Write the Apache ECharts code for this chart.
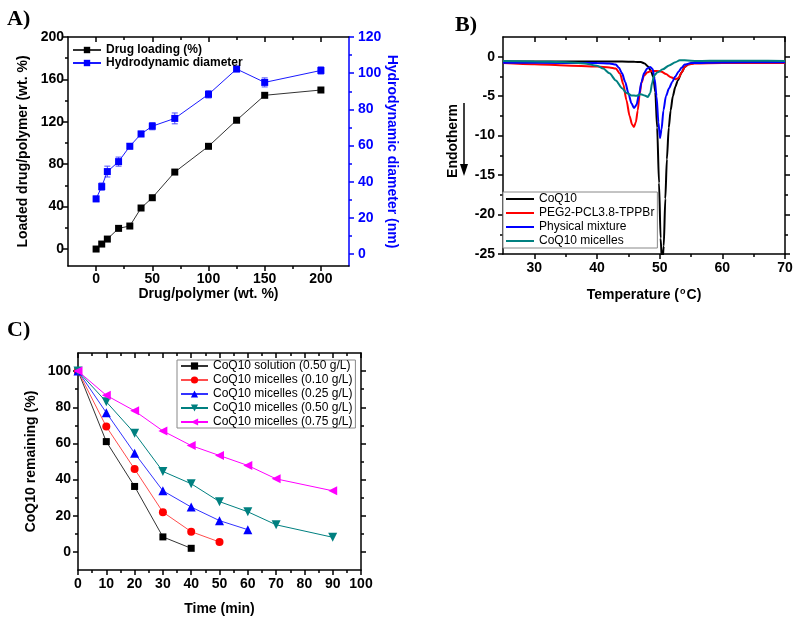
<!DOCTYPE html>
<html>
<head>
<meta charset="utf-8">
<title>CoQ10 micelles</title>
<script src="https://cdn.jsdelivr.net/npm/echarts@6.0.0/dist/echarts.min.js"></script>
<style>
  html, body { margin: 0; padding: 0; background: #fff; }
  #chart { width: 800px; height: 624px; }
</style>
</head>
<body>
<div id="chart"></div>
<script>
// A) drug loading + hydrodynamic diameter vs feed ratio
var feedRatio = [0, 5, 10, 20, 30, 40, 50, 70, 100, 125, 150, 200];
var drugLoading = [0, 4.7, 9.4, 19.5, 21.7, 38.7, 48.4, 72.6, 96.9, 121.5, 145, 150];
var hydroDiameter = [30.5, 37.3, 45.6, 51.1, 59.6, 66.4, 70.7, 75, 88.3, 102.3, 94.9, 101.5];
var hydroError = [1.5, 2, 3, 2.5, 1.5, 1.5, 2, 3, 2, 1.5, 2.5, 2];

// B) DSC curves, [temperature, heat flow]
var dscCoq10 = [[25,-0.6],[30,-0.6],[35,-0.6],[40,-0.62],[44,-0.62],[46,-0.63],[47,-0.68],[47.6,-0.85],[48.1,-1.2],[48.6,-1.8],[49,-2.6],[49.3,-4.5],[49.6,-9],[49.9,-16],[50.15,-23],[50.4,-26.5],[50.65,-24],[50.9,-18],[51.15,-13],[51.45,-9],[51.75,-6.8],[52.1,-5],[52.5,-3.8],[52.9,-3],[53.5,-2],[54,-1.3],[54.6,-0.95],[55.5,-0.8],[57,-0.72],[63,-0.7],[70,-0.7]];
var dscPolymer = [[25,-0.8],[30,-0.95],[35,-1.1],[40,-1.25],[42,-1.35],[43,-1.5],[43.7,-2.2],[44.2,-3.5],[44.7,-5.5],[45.2,-7.5],[45.6,-8.6],[45.9,-8.9],[46.2,-8.3],[46.5,-6.8],[46.8,-4.8],[47.1,-3.3],[47.5,-2.4],[48,-2],[48.7,-1.8],[49.5,-1.8],[50.3,-1.9],[51,-2.2],[51.8,-2.6],[52.5,-2.85],[53,-2.7],[53.5,-2],[54,-1.3],[54.5,-1],[55.5,-0.85],[60,-0.8],[70,-0.8]];
var dscMixture = [[25,-0.75],[35,-0.78],[40,-0.8],[42,-0.85],[43,-1],[43.5,-1.4],[44,-2.1],[44.5,-3.2],[45,-4.6],[45.5,-5.9],[45.9,-6.5],[46.3,-6.1],[46.7,-4.8],[47.1,-3.2],[47.5,-2.1],[48,-1.5],[48.5,-1.3],[48.9,-1.6],[49.2,-2.8],[49.5,-5],[49.8,-8.3],[50.05,-10.3],[50.3,-9.2],[50.6,-6.8],[51,-5],[51.5,-4],[52,-3.2],[52.5,-2.5],[53,-1.9],[53.5,-1.4],[54,-1],[55,-0.8],[60,-0.72],[70,-0.7]];
var dscMicelles = [[25,-0.55],[30,-0.6],[35,-0.7],[38,-0.85],[40,-1.15],[41,-1.5],[42,-2.1],[43,-3],[44,-4],[44.7,-4.6],[45.5,-4.9],[46.3,-4.95],[47,-4.75],[47.6,-4.9],[48.1,-5.1],[48.5,-4.6],[48.8,-3.3],[49.1,-2.4],[49.6,-2],[50.5,-1.6],[51.5,-1.1],[52.5,-0.7],[53.2,-0.45],[54,-0.45],[56,-0.55],[60,-0.5],[65,-0.5],[70,-0.55]];

// C) CoQ10 remaining vs time
var timeMin = [0, 10, 20, 30, 40, 50, 60, 70, 90];
var solution050 = [100, 61, 36.2, 8.3, 2];
var micelles010 = [100, 69.3, 45.8, 22, 11.2, 5.5];
var micelles025 = [100, 77, 54.6, 33.8, 24.8, 17.3, 12.3];
var micelles050 = [100, 83, 65.6, 44.5, 37.7, 27.8, 22.2, 15, 8.1];
var micelles075 = [100, 86.6, 78, 66.9, 58.8, 53.3, 47.8, 40.4, 33.8];

// tick values (major / minor)
var ticksAx = [0, 50, 100, 150, 200], minorAx = [25, 75, 125, 175];
var ticksAy = [0, 40, 80, 120, 160, 200], minorAy = [20, 60, 100, 140, 180];
var ticksAy2 = [0, 20, 40, 60, 80, 100, 120], minorAy2 = [10, 30, 50, 70, 90, 110];
var ticksBx = [30, 40, 50, 60, 70], minorBx = [35, 45, 55, 65];
var ticksBy = [-25, -20, -15, -10, -5, 0], minorBy = [-22.5, -17.5, -12.5, -7.5, -2.5];
var ticksCx = [0, 10, 20, 30, 40, 50, 60, 70, 80, 90, 100], minorCx = [5, 15, 25, 35, 45, 55, 65, 75, 85, 95];
var ticksCy = [0, 20, 40, 60, 80, 100], minorCy = [10, 30, 50, 70, 90];

var FONT = '"Liberation Sans", Arial, sans-serif';

function pair(xs, ys) {
  return ys.map(function (y, i) { return [xs[i], y]; });
}

// one axis with major ticks (+labels) and a twin carrying the minor ticks
function axisPair(grid, pos, min, max, major, minor, opt) {
  opt = opt || {};
  var color = opt.color || '#000';
  var inside = pos === 'top';
  var main = {
    type: 'value', gridIndex: grid, position: pos, min: min, max: max,
    splitLine: { show: false },
    axisLine: { show: true, onZero: false, lineStyle: { color: color, width: 1.5 } },
    axisTick: { show: true, inside: inside, length: 5, customValues: major, lineStyle: { color: color, width: 1.5 } },
    axisLabel: { show: !!opt.labels, customValues: major, margin: opt.margin || 6, color: color,
                 fontFamily: FONT, fontWeight: 'bold', fontSize: 14 }
  };
  if (opt.name) {
    main.name = opt.name;
    main.nameLocation = 'middle';
    main.nameGap = opt.nameGap;
    if (opt.nameRotate != null) main.nameRotate = opt.nameRotate;
    main.nameTextStyle = { color: color, fontFamily: FONT, fontWeight: 'bold', fontSize: 14 };
    if (opt.rich) main.nameTextStyle.rich = opt.rich;
  }
  var sub = {
    type: 'value', gridIndex: grid, position: pos, min: min, max: max,
    splitLine: { show: false },
    axisLine: { show: false, onZero: false },
    axisTick: { show: true, inside: inside, length: 3, customValues: minor, lineStyle: { color: color, width: 1.5 } },
    axisLabel: { show: false }
  };
  return [main, sub];
}

var xAxes = [].concat(
  axisPair(0, 'bottom', -25, 225, ticksAx, minorAx, { labels: true, margin: 6, name: 'Drug/polymer (wt. %)', nameGap: 20 }),
  axisPair(0, 'top', -25, 225, ticksAx, minorAx),
  axisPair(1, 'bottom', 25, 70, ticksBx, minorBx, { labels: true, margin: 7, name: 'Temperature ({sup|o}C)', nameGap: 33,
    rich: { sup: { fontSize: 9, fontWeight: 'bold', fontFamily: FONT, verticalAlign: 'top', padding: [0, 1, 8, 1] } } }),
  axisPair(1, 'top', 25, 70, ticksBx, minorBx),
  axisPair(2, 'bottom', 0, 100, ticksCx, minorCx, { labels: true, margin: 7, name: 'Time (min)', nameGap: 32 }),
  axisPair(2, 'top', 0, 100, ticksCx, minorCx)
);
var yAxes = [].concat(
  axisPair(0, 'left', -16, 200, ticksAy, minorAy, { labels: true, margin: 4, name: 'Loaded drug/polymer (wt. %)', nameGap: 38 }),
  axisPair(0, 'right', -6.6, 120, ticksAy2, minorAy2, { labels: true, margin: 9, color: '#0000ff', name: 'Hydrodynamic diameter (nm)', nameGap: 36, nameRotate: -90 }),
  axisPair(1, 'left', -25, 2.5, ticksBy, minorBy, { labels: true, margin: 8 }),
  axisPair(1, 'right', -25, 2.5, ticksBy, minorBy),
  axisPair(2, 'left', -10, 110, ticksCy, minorCy, { labels: true, margin: 7, name: 'CoQ10 remaining (%)', nameGap: 40 }),
  axisPair(2, 'right', -10, 110, ticksCy, minorCy)
);

function errorBar(params, api) {
  var x = api.value(0);
  var lo = api.coord([x, api.value(1)]);
  var hi = api.coord([x, api.value(2)]);
  var style = { stroke: '#4d4dff', lineWidth: 1 };
  return {
    type: 'group',
    children: [
      { type: 'line', shape: { x1: lo[0], y1: lo[1], x2: hi[0], y2: hi[1] }, style: style },
      { type: 'line', shape: { x1: hi[0] - 3, y1: hi[1], x2: hi[0] + 3, y2: hi[1] }, style: style },
      { type: 'line', shape: { x1: lo[0] - 3, y1: lo[1], x2: lo[0] + 3, y2: lo[1] }, style: style }
    ]
  };
}

function dscLine(name, data, color) {
  return {
    name: name, type: 'line', xAxisIndex: 4, yAxisIndex: 4, data: data,
    symbol: 'none', smooth: 0.25, smoothMonotone: 'x',
    lineStyle: { color: color, width: 2 }, itemStyle: { color: color }
  };
}

function decayLine(name, values, symbol, size, rotate, color, lineColor) {
  return {
    name: name, type: 'line', xAxisIndex: 8, yAxisIndex: 8, data: pair(timeMin, values),
    symbol: symbol, symbolSize: size, symbolRotate: rotate,
    lineStyle: { color: lineColor, width: 1 }, itemStyle: { color: color }
  };
}

var chart = echarts.init(document.getElementById('chart'));
chart.setOption({
  animation: false,
  backgroundColor: '#fff',
  grid: [
    { left: 68, top: 37, width: 281, height: 229, outerBoundsMode: 'none' },
    { left: 503, top: 37, width: 282, height: 217, outerBoundsMode: 'none' },
    { left: 78, top: 353, width: 283, height: 217, outerBoundsMode: 'none' }
  ],
  xAxis: xAxes,
  yAxis: yAxes,
  legend: [
    { data: ['Drug loading (%)', 'Hydrodynamic diameter'], orient: 'vertical', left: 72, top: 44,
      padding: 0, itemGap: 1, itemWidth: 28, itemHeight: 8,
      textStyle: { fontFamily: FONT, fontWeight: 'bold', fontSize: 12, color: '#000' } },
    { data: ['CoQ10', 'PEG2-PCL3.8-TPPBr', 'Physical mixture', 'CoQ10 micelles'], orient: 'vertical',
      left: 503, top: 192, padding: [1, 3, 1, 3], itemGap: 2, itemWidth: 28, itemHeight: 2, icon: 'rect',
      borderColor: '#888', borderWidth: 1, backgroundColor: '#fff',
      textStyle: { fontFamily: FONT, fontSize: 12, color: '#000' } },
    { data: ['CoQ10 solution (0.50 g/L)', 'CoQ10 micelles (0.10 g/L)', 'CoQ10 micelles (0.25 g/L)',
             'CoQ10 micelles (0.50 g/L)', 'CoQ10 micelles (0.75 g/L)'], orient: 'vertical',
      left: 177, top: 360, padding: [0, 3, 0, 3], itemGap: 2, itemWidth: 27, itemHeight: 9,
      borderColor: '#888', borderWidth: 1, backgroundColor: '#fff',
      textStyle: { fontFamily: FONT, fontSize: 12, color: '#000' } }
  ],
  graphic: [
    { type: 'text', left: 7, top: 8, style: { text: 'A)', font: 'bold 22px "Liberation Serif", serif', fill: '#000' } },
    { type: 'text', left: 455, top: 14, style: { text: 'B)', font: 'bold 22px "Liberation Serif", serif', fill: '#000' } },
    { type: 'text', left: 7, top: 319, style: { text: 'C)', font: 'bold 22px "Liberation Serif", serif', fill: '#000' } },
    { type: 'text', x: 453, y: 141, rotation: Math.PI / 2,
      style: { text: 'Endotherm', font: 'bold 14px ' + FONT, fill: '#000', align: 'center', verticalAlign: 'middle' } },
    { type: 'line', shape: { x1: 464, y1: 103, x2: 464, y2: 167 }, style: { stroke: '#000', lineWidth: 1.5 } },
    { type: 'polygon', shape: { points: [[460, 164], [468, 164], [464, 176]] }, style: { fill: '#000' } }
  ],
  series: [
    { name: 'Drug loading (%)', type: 'line', xAxisIndex: 0, yAxisIndex: 0, data: pair(feedRatio, drugLoading),
      symbol: 'rect', symbolSize: 7, lineStyle: { color: '#333', width: 1 }, itemStyle: { color: '#000' } },
    { name: 'Hydrodynamic diameter', type: 'line', xAxisIndex: 0, yAxisIndex: 2, data: pair(feedRatio, hydroDiameter),
      symbol: 'rect', symbolSize: 7, lineStyle: { color: '#1a1aff', width: 1 }, itemStyle: { color: '#0000ff' }, z: 3 },
    { type: 'custom', xAxisIndex: 0, yAxisIndex: 2, renderItem: errorBar, encode: { x: 0, y: [1, 2] },
      data: feedRatio.map(function (x, i) { return [x, hydroDiameter[i] - hydroError[i], hydroDiameter[i] + hydroError[i]]; }), z: 2 },

    dscLine('CoQ10', dscCoq10, '#000000'),
    dscLine('PEG2-PCL3.8-TPPBr', dscPolymer, '#ff0000'),
    dscLine('Physical mixture', dscMixture, '#0000ff'),
    dscLine('CoQ10 micelles', dscMicelles, '#008080'),

    decayLine('CoQ10 solution (0.50 g/L)', solution050, 'rect', 7, 0, '#000000', '#333333'),
    decayLine('CoQ10 micelles (0.10 g/L)', micelles010, 'circle', 8, 0, '#ff0000', '#ff4d4d'),
    decayLine('CoQ10 micelles (0.25 g/L)', micelles025, 'triangle', 9, 0, '#0000ff', '#3333ff'),
    decayLine('CoQ10 micelles (0.50 g/L)', micelles050, 'triangle', 9, 180, '#008080', '#008080'),
    decayLine('CoQ10 micelles (0.75 g/L)', micelles075, 'triangle', 9, 90, '#ff00ff', '#ff00ff')
  ]
});
</script>
</body>
</html>
